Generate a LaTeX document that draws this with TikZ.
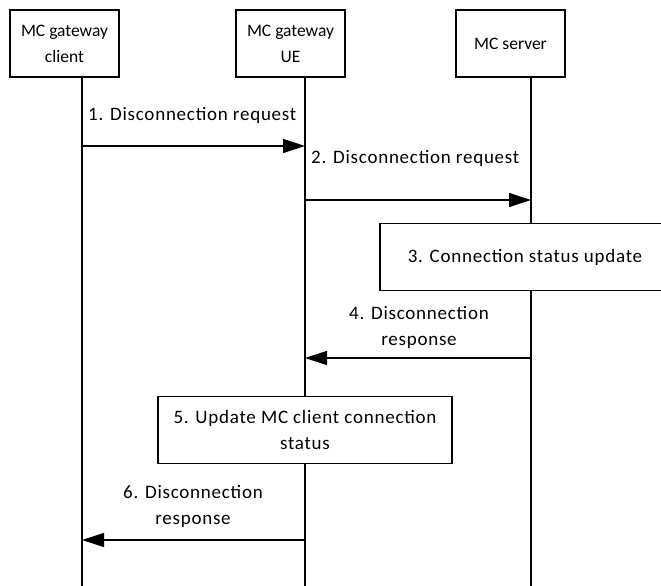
\documentclass[tikz,border=0pt]{standalone}
\usepackage{fontspec}
\setmainfont{Carlito}[LetterSpace=4]
\usepackage{tikz}
\usetikzlibrary{arrows.meta,positioning}

\begin{document}
\begin{tikzpicture}[
  x=1pt,y=-1pt,
  every node/.style={font=\fontsize{19}{26}\selectfont},
  ent/.style={draw,line width=1.2pt,minimum width=109pt,minimum height=67pt,align=center,inner sep=2pt,
    font=\fontsize{17.5}{26}\selectfont\addfontfeature{LetterSpace=0}},
  act/.style={draw,line width=1.2pt,align=center,minimum height=67pt,inner sep=2pt},
  life/.style={line width=1.2pt},
  msg/.style={-{Triangle[length=22pt,width=14pt]},line width=1.2pt},
  lbl/.style={align=center,inner sep=0pt}
]
\useasboundingbox (0,0) rectangle (661,586);
\clip (0,0) rectangle (661,586);
% entities
\node[ent] (gwc) at (64.5,43.5) {MC gateway\\client};
\node[ent] (gwue) at (290.5,43.5) {MC gateway\\UE};
\node[ent] (srv) at (510.5,43.5) {MC server};
% lifelines
\coordinate (gwcTop) at (82,77);
\coordinate (gwueTop) at (305,77);
\coordinate (srvTop) at (531,77);
\coordinate (gwcEnd) at (82,586);
\coordinate (gwueEnd) at (305,586);
\coordinate (srvEnd) at (531,586);
% local actions
\node[act,minimum width=290pt,fill=white] (stat) at (525,257) {3. Connection status update};
\node[act,minimum width=294pt,fill=white] (upd) at (305,430) {5. Update MC client connection\\status};
\draw[life] (gwcTop) -- (gwcEnd);
\draw[life] (gwueTop) -- (upd.north);
\draw[life] (upd.south) -- (gwueEnd);
\draw[life] (srvTop) -- (stat.north -| srvTop);
\draw[life] (stat.south -| srvTop) -- (srvEnd);
% messages
\coordinate (m1a) at (82,146);
\coordinate (m1b) at (305,146);
\coordinate (m2a) at (305,200);
\coordinate (m2b) at (531,200);
\coordinate (m4a) at (531,358);
\coordinate (m4b) at (305,358);
\coordinate (m6a) at (304,540);
\coordinate (m6b) at (82,540);
\draw[msg] (m1a) -- (m1b);
\draw[msg] (m2a) -- (m2b);
\draw[msg] (m4a) -- (m4b);
\draw[msg] (m6a) -- (m6b);
\node[lbl,anchor=west] (l1) at (88,115) {1. Disconnection request};
\node[lbl,anchor=west] (l2) at (311,158) {2. Disconnection request};
\node[lbl] (l4) at (419,327) {4. Disconnection\\response};
\node[lbl] (l6) at (193,506) {6. Disconnection\\response};
\end{tikzpicture}
\end{document}
